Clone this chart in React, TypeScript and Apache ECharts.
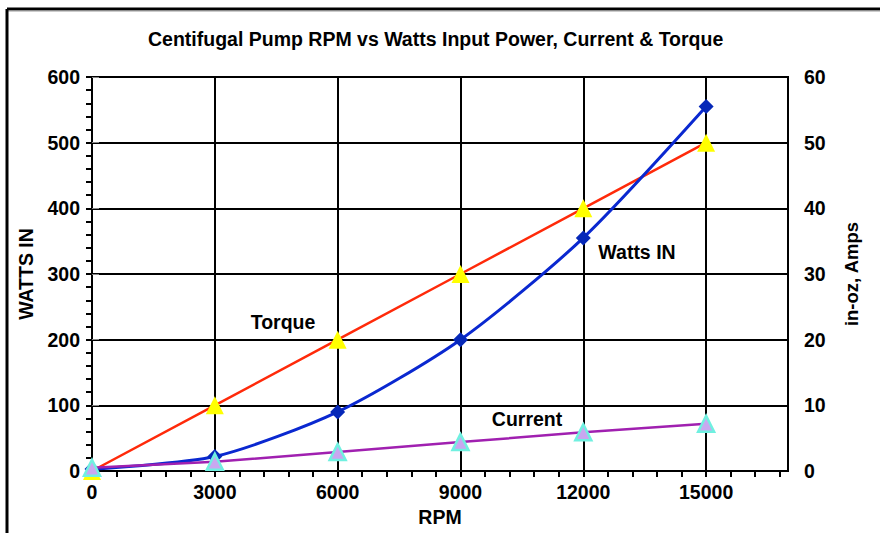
import React, { useEffect, useRef } from "react";
import * as echarts from "echarts";

const rpm = [0, 3000, 6000, 9000, 12000, 15000];
const wattsIn = [3, 22, 90, 200, 355, 555];
const torque = [0, 100, 200, 300, 400, 500];
const current = [0.5, 1.4, 2.9, 4.4, 5.9, 7.2];

const FONT = "Liberation Sans, Arial, sans-serif";

export default function App() {
  const ref = useRef<HTMLDivElement>(null);
  useEffect(() => {
    if (!ref.current) return;
    const chart = echarts.init(ref.current, null, { renderer: "svg" });
    const lbl = { fontFamily: FONT, fontWeight: "bold", fontSize: 19.5, color: "#000" };
    const nm = { fontFamily: FONT, fontWeight: "bold", fontSize: 19.5, color: "#000" };
    chart.setOption({
      animation: false,
      backgroundColor: "#fff",
      title: {
        text: "Centifugal Pump RPM vs Watts Input Power, Current & Torque",
        left: 143,
        top: 24,
        textStyle: { fontFamily: FONT, fontWeight: "bold", fontSize: 19.5, color: "#000" },
      },
      grid: {
        left: 92,
        right: 92,
        top: 77,
        bottom: 62,
        show: true,
        borderColor: "#000",
        borderWidth: 2,
        backgroundColor: "transparent",
      },
      xAxis: [
        {
          type: "value",
          min: 0,
          max: 17000,
          interval: 600,
          position: "bottom",
          name: "RPM",
          nameLocation: "middle",
          nameGap: 36,
          nameTextStyle: nm,
          axisLine: { show: true, lineStyle: { color: "#000", width: 2 } },
          axisTick: { show: true, length: 6, lineStyle: { color: "#000", width: 2 } },
          axisLabel: {
            ...lbl,
            margin: 11,
            showMaxLabel: false,
            formatter: (v: number) => (v % 3000 === 0 && v <= 15000 ? String(v) : ""),
          },
          splitLine: { show: false },
        },
        {
          type: "value",
          min: 0,
          max: 17000,
          interval: 3000,
          position: "top",
          axisLine: { show: false },
          axisTick: { show: false },
          axisLabel: { show: false },
          splitLine: { show: true, lineStyle: { color: "#000", width: 2 } },
        },
      ],
      yAxis: [
        {
          type: "value",
          min: 0,
          max: 600,
          interval: 100,
          position: "left",
          name: "WATTS IN",
          nameLocation: "middle",
          nameGap: 56,
          nameTextStyle: nm,
          axisLine: { show: true, lineStyle: { color: "#000", width: 2 } },
          axisTick: { show: true, length: 6, lineStyle: { color: "#000", width: 2 } },
          minorTick: { show: true, splitNumber: 5, length: 6, lineStyle: { color: "#000", width: 2 } },
          axisLabel: { ...lbl, margin: 12 },
          splitLine: { show: true, lineStyle: { color: "#000", width: 2 } },
        },
        {
          type: "value",
          min: 0,
          max: 60,
          interval: 10,
          position: "right",
          name: "in-oz, Amps",
          nameLocation: "middle",
          nameGap: 54,
          nameTextStyle: { ...nm, fontSize: 18.5 },
          axisLine: { show: false },
          axisTick: { show: true, length: 7, lineStyle: { color: "#888", width: 1 } },
          axisLabel: { ...lbl, margin: 16 },
          splitLine: { show: false },
        },
      ],
      series: [
        {
          name: "Torque",
          type: "line",
          xAxisIndex: 0,
          yAxisIndex: 0,
          data: rpm.map((x, i) => [x, torque[i]]),
          symbol: "triangle",
          symbolSize: 18,
          lineStyle: { color: "#ff2a0a", width: 2.5 },
          itemStyle: { color: "#ffff00", borderWidth: 0 },
          z: 3,
        },
        {
          name: "Watts IN",
          type: "line",
          xAxisIndex: 0,
          yAxisIndex: 0,
          data: rpm.map((x, i) => [x, wattsIn[i]]),
          smooth: 0.25,
          symbol: "diamond",
          symbolSize: 15,
          lineStyle: { color: "#0a28d0", width: 3 },
          itemStyle: { color: "#0628b8", borderWidth: 0 },
          z: 4,
        },
        {
          name: "Current",
          type: "line",
          xAxisIndex: 0,
          yAxisIndex: 1,
          data: rpm.map((x, i) => [x, current[i]]),
          symbol: "triangle",
          symbolSize: 16,
          lineStyle: { color: "#a020b0", width: 2.5 },
          itemStyle: { color: "#c8a8f0", borderColor: "#70f0e0", borderWidth: 2.5 },
          z: 5,
        },
      ],
      graphic: [
        { type: "line", shape: { x1: 7, y1: 9, x2: 880, y2: 9 }, style: { stroke: "#000", lineWidth: 3 } },
        { type: "line", shape: { x1: 7, y1: 11, x2: 880, y2: 11 }, style: { stroke: "#999", lineWidth: 1 } },
        { type: "line", shape: { x1: 7, y1: 9, x2: 7, y2: 533 }, style: { stroke: "#000", lineWidth: 3 } },
        { type: "text", x: 283, y: 322, style: { text: "Torque", textAlign: "center", textVerticalAlign: "middle", font: `bold 19.5px ${FONT}`, fill: "#000" } },
        { type: "text", x: 637, y: 252, style: { text: "Watts IN", textAlign: "center", textVerticalAlign: "middle", font: `bold 19.5px ${FONT}`, fill: "#000" } },
        { type: "text", x: 527, y: 419, style: { text: "Current", textAlign: "center", textVerticalAlign: "middle", font: `bold 19.5px ${FONT}`, fill: "#000" } },
      ],
    });
    return () => chart.dispose();
  }, []);
  return <div ref={ref} style={{ position: "absolute", left: 0, top: 0, width: 880, height: 533 }} />;
}
